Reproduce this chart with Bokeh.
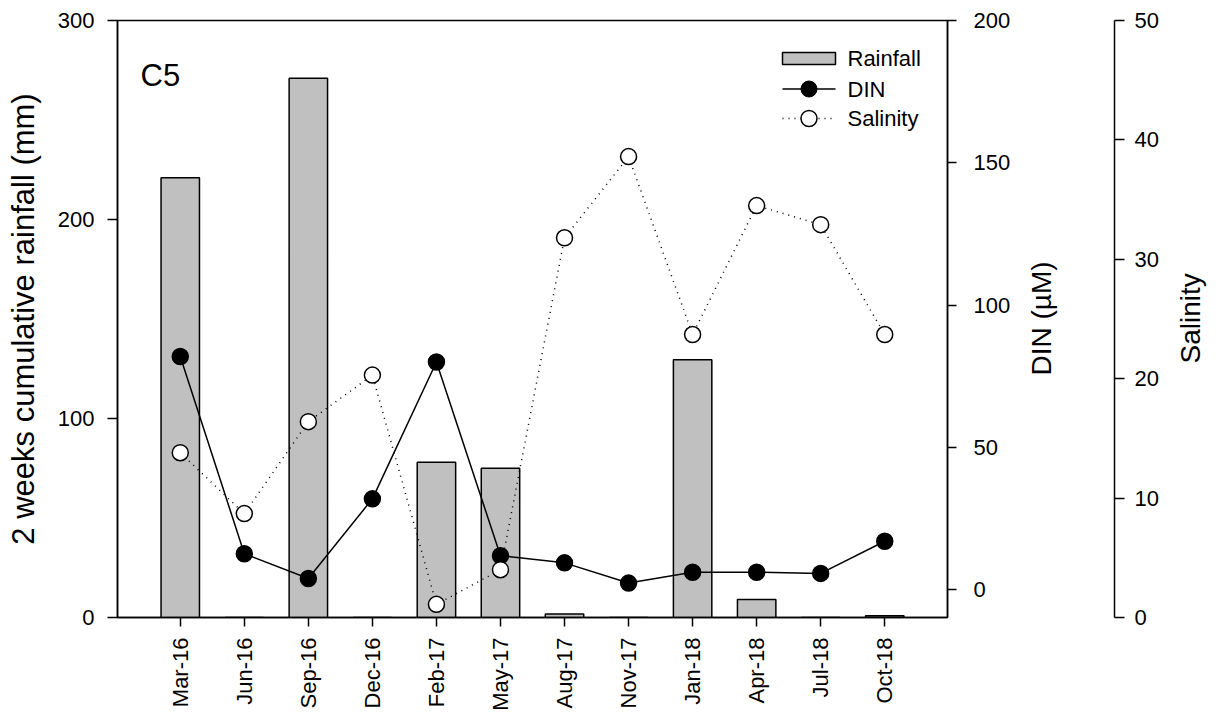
import math

from bokeh.core.properties import value
from bokeh.embed import file_html
from bokeh.models import ColumnDataSource, FixedTicker, LinearAxis, Range1d
from bokeh.plotting import figure
from bokeh.resources import INLINE

# Station C5 sampling campaigns
months = ["Mar-16", "Jun-16", "Sep-16", "Dec-16", "Feb-17", "May-17",
          "Aug-17", "Nov-17", "Jan-18", "Apr-18", "Jul-18", "Oct-18"]
rainfall_mm = [221, 0, 271, 0, 78, 75, 1.7, 0, 129.5, 9, 0, 0.9]
din_um = [81.9, 12.6, 3.9, 31.9, 80.0, 11.9, 9.4, 2.3, 6.1, 6.1, 5.7, 17.0]
salinity = [13.8, 8.7, 16.4, 20.3, 1.1, 4.0, 31.8, 38.6, 23.7, 34.5, 32.9, 23.7]

rain_ticks = [0, 100, 200, 300]
din_ticks = [0, 50, 100, 150, 200]
sal_ticks = [0, 10, 20, 30, 40, 50]

FONT = "Liberation Sans"
TICK_SIZE = "22px"
TITLE_SIZE = "28px"

# one slot per campaign along x
slot = list(range(len(months)))

src = ColumnDataSource(dict(slot=slot, month=months, rain=rainfall_mm,
                            din=din_um, sal=salinity))

p = figure(
    width=1224, height=715,
    x_range=Range1d(-0.98, len(months) - 1 + 0.98),
    y_range=Range1d(0, 300),
    output_backend="svg", toolbar_location=None,
    min_border_left=117, min_border_right=277, min_border_top=20, min_border_bottom=98,
)
# "lx"/"ly": frame pixel coordinates for the key, station name and right titles
p.extra_y_ranges = {"din": Range1d(-9.8, 200), "sal": Range1d(0, 50),
                    "ly": Range1d(0, 597)}
p.extra_x_ranges = {"lx": Range1d(0, 830)}

p.xgrid.visible = False
p.ygrid.visible = False
p.outline_line_color = "black"
p.outline_line_width = 1.5
p.background_fill_color = "white"
p.border_fill_color = "white"


def style_axis(ax):
    ax.axis_line_color = "black"
    ax.axis_line_width = 1.5
    ax.major_tick_line_color = "black"
    ax.major_tick_line_width = 1.5
    ax.major_tick_in = 0
    ax.major_tick_out = 9
    ax.minor_tick_line_color = None
    ax.major_label_text_font = FONT
    ax.major_label_text_font_size = TICK_SIZE
    ax.major_label_text_color = "black"
    ax.axis_label_text_font = FONT
    ax.axis_label_text_font_style = "normal"
    ax.axis_label_text_color = "black"


def bare_axis(tick, text, standoff, size=TITLE_SIZE):
    """Axis without line or tick marks; its single tick label is a title
    (or an empty spacer) reading bottom to top."""
    ax = LinearAxis(y_range_name="ly", ticker=FixedTicker(ticks=[tick]),
                    major_label_overrides={tick: text})
    ax.axis_line_color = None
    ax.major_tick_line_color = None
    ax.minor_tick_line_color = None
    ax.major_tick_in = 0
    ax.major_tick_out = 0
    ax.major_label_standoff = standoff
    ax.major_label_orientation = math.pi / 2
    ax.major_label_text_font = FONT
    ax.major_label_text_font_size = size
    ax.major_label_text_color = "black"
    return ax


# left: rainfall axis
yax = p.yaxis[0]
style_axis(yax)
yax.ticker = FixedTicker(ticks=rain_ticks)
yax.major_tick_out = 10
yax.major_label_standoff = 13
yax.axis_label = "2 weeks cumulative rainfall (mm)"
yax.axis_label_text_font_size = "31px"
yax.axis_label_standoff = 14

# bottom: sampling months
xax = p.xaxis[0]
style_axis(xax)
xax.ticker = FixedTicker(ticks=slot)
xax.major_label_overrides = {i: m for i, m in zip(slot, months)}
xax.major_label_orientation = math.pi / 2
xax.major_label_standoff = 11

# right: DIN axis, its title, a spacer, the salinity axis and its title
din_axis = LinearAxis(y_range_name="din", ticker=FixedTicker(ticks=din_ticks))
style_axis(din_axis)
din_axis.major_label_standoff = 17
p.add_layout(din_axis, "right")

p.add_layout(bare_axis(242, "DIN (\u00b5M)", 28), "right")

spacer = bare_axis(300, "", 0)
spacer.major_tick_out = 39
p.add_layout(spacer, "right")

sal_axis = LinearAxis(y_range_name="sal", ticker=FixedTicker(ticks=sal_ticks))
style_axis(sal_axis)
sal_axis.major_tick_out = 10
sal_axis.major_label_standoff = 10
p.add_layout(sal_axis, "right")

p.add_layout(bare_axis(254, "Salinity", 29), "right")

# data
p.vbar(x="slot", top="rain", bottom=0, width=0.6, source=src,
       fill_color="#c0c0c0", line_color="black", line_width=1.5)
p.line("slot", "din", source=src, y_range_name="din",
       line_color="black", line_width=1.5)
p.scatter("slot", "din", source=src, y_range_name="din", size=16,
          fill_color="black", line_color="black", line_width=1.5)
p.line("slot", "sal", source=src, y_range_name="sal",
       line_color="black", line_width=1.5, line_dash="1 5")
p.scatter("slot", "sal", source=src, y_range_name="sal", size=16,
          fill_color="white", line_color="black", line_width=1.5)

# key, in frame pixel coordinates
key_labels = ["Rainfall", "DIN", "Salinity"]
key_y = [559, 528.5, 499]
kx0, kx1, kxc, ktx = 665, 718, 691.5, 730
p.rect(x=[kxc], y=[key_y[0]], width=53, height=12, width_units="screen",
       height_units="screen", x_range_name="lx", y_range_name="ly",
       fill_color="#c0c0c0", line_color="black", line_width=1.5)
p.segment(x0=[kx0], y0=[key_y[1]], x1=[kx1], y1=[key_y[1]],
          x_range_name="lx", y_range_name="ly", line_color="black", line_width=1.5)
p.scatter(x=[kxc], y=[key_y[1]], size=16, x_range_name="lx", y_range_name="ly",
          fill_color="black", line_color="black")
p.segment(x0=[kx0], y0=[key_y[2]], x1=[kx1], y1=[key_y[2]],
          x_range_name="lx", y_range_name="ly", line_color="black",
          line_width=1.5, line_dash="1 5")
p.scatter(x=[kxc], y=[key_y[2]], size=16, x_range_name="lx", y_range_name="ly",
          fill_color="white", line_color="black", line_width=1.5)
p.text(x=[ktx] * 3, y=key_y, text=key_labels, x_range_name="lx", y_range_name="ly",
       text_font=value(FONT), text_font_size="22px", text_baseline="middle",
       text_align="left", text_color="black")

# station name
p.text(x=[23], y=[542], text=["C5"], x_range_name="lx", y_range_name="ly",
       text_font=value(FONT), text_font_size="31px", text_baseline="alphabetic",
       text_align="left", text_color="black")

open("out.html", "w").write(file_html(p, INLINE))
